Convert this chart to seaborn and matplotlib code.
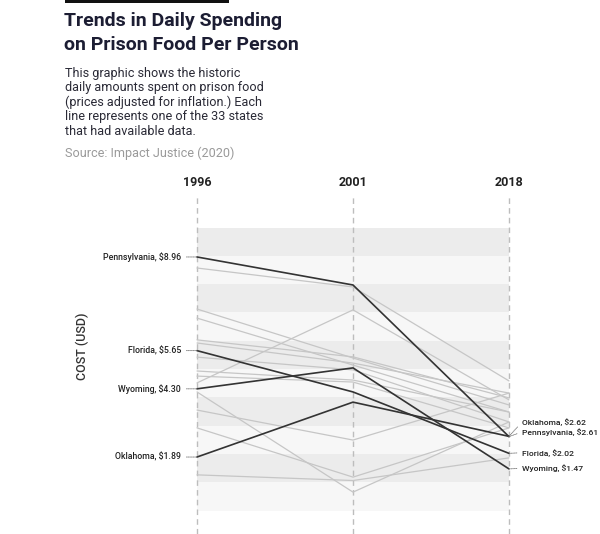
import matplotlib
matplotlib.use('Agg')
import matplotlib.pyplot as plt
import seaborn as sns
import pandas as pd
from matplotlib.patches import Rectangle

# ---- data (USD per person per day, inflation adjusted) ----
years = ['1996', '2001', '2018']

highlight_states = ['Pennsylvania', 'Florida', 'Wyoming', 'Oklahoma']
highlight_1996 = [8.96, 5.65, 4.30, 1.89]
highlight_2001 = [7.97, 4.19, 5.04, 3.83]
highlight_2018 = [2.61, 2.02, 1.47, 2.62]

other_1996 = [8.57, 4.51, 7.12, 6.80, 6.03, 5.92, 5.42, 4.93, 4.75, 4.19, 3.55, 2.92, 1.26]
other_2001 = [7.90, 7.09, 5.39, 5.14, 5.43, 5.21, 4.97, 4.61, 4.54, 0.65, 2.49, 1.18, 1.06]
other_2018 = [4.58, 3.91, 3.73, 3.48, 3.98, 4.15, 3.13, 3.48, 2.92, 3.13, 4.15, 2.92, 1.86]

title_lines = ['Trends in Daily Spending', 'on Prison Food Per Person']
subtitle_lines = ['This graphic shows the historic',
                  'daily amounts spent on prison food',
                  '(prices adjusted for inflation.) Each',
                  'line represents one of the 33 states',
                  'that had available data.']
source_text = 'Source: Impact Justice (2020)'

# label offsets for the 2018 side (points), Oklahoma/Pennsylvania are pulled apart
right_label_dy = {'Pennsylvania': 3.5, 'Florida': 0.5, 'Wyoming': 0.5, 'Oklahoma': 10.5}


def to_long(names, v96, v01, v18):
    """Turn the per-year lists into one long frame for seaborn"""
    rows = []
    for name, a, b, c in zip(names, v96, v01, v18):
        for pos, val in enumerate([a, b, c]):
            rows.append({'state': name, 'pos': pos, 'cost': val})
    return pd.DataFrame(rows)


sns.set_style('white')
plt.rcParams['font.family'] = ['Roboto', 'DejaVu Sans']

W, H = 600, 534
fig = plt.figure(figsize=(W / 100, H / 100), dpi=100)


def fx(px):
    return px / W


def fy(py):
    return 1 - py / H


# axes: 1996 at x=197px, 2018 at x=509px, top of axes at y=195px
ax = fig.add_axes([fx(197 - 0.05 * 156), 0, fx(2.1 * 156), (H - 195) / H])
ax.set_xlim(-0.05, 2.05)
ax.set_ylim(-0.83, 11.15)

# alternating dollar bands
for i in range(10):
    ax.fill_between([0, 2], i, i + 1, color='#ececec' if i % 2 else '#f7f7f7',
                    lw=0, zorder=0)

for pos in range(len(years)):
    ax.axvline(pos, color='#bdbdbd', ls=(0, (4, 3)), lw=1, zorder=1)

others = to_long([f'other_{i}' for i in range(len(other_1996))],
                 other_1996, other_2001, other_2018)
highlights = to_long(highlight_states, highlight_1996, highlight_2001, highlight_2018)

sns.lineplot(data=others, x='pos', y='cost', units='state', estimator=None,
             color='#c6c6c6', lw=0.9, ax=ax, legend=False, zorder=2)
sns.lineplot(data=highlights, x='pos', y='cost', units='state', estimator=None,
             color='#333333', lw=1.2, ax=ax, legend=False, zorder=3)

# state labels with dotted leaders
leader = dict(arrowstyle='-', ls=(0, (1, 1)), color='#777777', lw=0.6,
              shrinkA=1.5, shrinkB=0)
for name, v in zip(highlight_states, highlight_1996):
    ax.annotate(f'{name}, ${v:.2f}', xy=(0, v), xytext=(-11.5, 0),
                textcoords='offset points', ha='right', va='center',
                fontsize=6.3, fontweight='medium', color='#222222',
                annotation_clip=False,
                arrowprops=dict(leader, relpos=(1, 0.5)))
for name, v in zip(highlight_states, highlight_2018):
    ax.annotate(f'{name}, ${v:.2f}', xy=(2, v), xytext=(9.5, right_label_dy[name]),
                textcoords='offset points', ha='left', va='center',
                fontsize=6.1, fontweight='medium', color='#222222',
                annotation_clip=False,
                arrowprops=dict(leader, relpos=(0, 0.5)))

ax.xaxis.tick_top()
ax.set_xticks(range(len(years)), years)
ax.tick_params(axis='x', length=0, pad=4.5, labelsize=9, labelcolor='#222222')
for lbl in ax.get_xticklabels():
    lbl.set_fontweight('bold')
ax.set_yticks([])
ax.set_xlabel('')
ax.set_ylabel('')
sns.despine(ax=ax, left=True, bottom=True, top=True, right=True)

fig.text(fx(82), fy(346), 'COST (USD)', rotation=90, ha='center', va='center',
         fontsize=9, fontweight='medium', color='#333333')

# header
fig.add_artist(Rectangle((fx(65), fy(2.5)), fx(164), 2.5 / H,
                         transform=fig.transFigure, color='#111111', lw=0))
for i, line in enumerate(title_lines):
    fig.text(fx(64), fy(21 + 23.5 * i), line, ha='left', va='center',
             fontsize=14, fontweight='bold', color='#1c1d33')
for i, line in enumerate(subtitle_lines):
    fig.text(fx(65), fy(73 + 14.6 * i), line, ha='left', va='center',
             fontsize=9.1, color='#2a2a36')
fig.text(fx(65), fy(153), source_text, ha='left', va='center',
         fontsize=9.1, color='#9a9a9a')

fig.savefig('out.png', dpi=100)
